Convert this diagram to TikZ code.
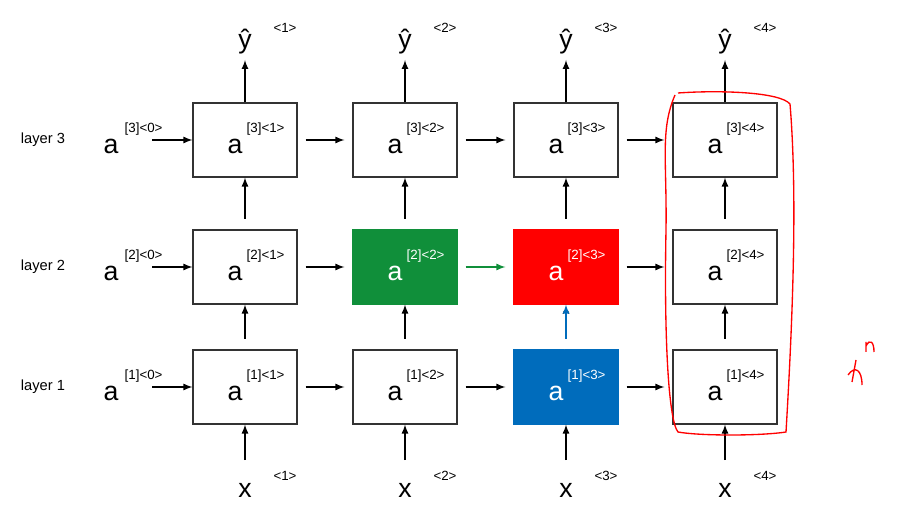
\documentclass[tikz,border=0pt]{standalone}
\usepackage{fontspec}
\setmainfont{Liberation Sans}
\begin{document}
\begin{tikzpicture}[x=0.75pt,y=-0.75pt,
 box/.style={draw=black!80,line width=0.9pt,minimum width=78pt,minimum height=55.5pt,inner sep=0pt},
 arr/.style={-latex,line width=1.3pt},
 big/.style={font=\fontsize{20}{20}\selectfont},
 sup/.style={font=\fontsize{10}{10}\selectfont},
 lay/.style={font=\fontsize{11}{11}\selectfont}]
\useasboundingbox (0,0) rectangle (902,530);
\definecolor{g}{RGB}{16,143,58}\definecolor{bl}{RGB}{0,108,188}
\foreach \c/\cx in {1/245,2/405,3/566,4/725}{
 \foreach \r/\cy in {1/387,2/267,3/140}{
  \def\fc{white}\def\tc{black}\def\dc{black!80}%
  \ifnum\c\r=22 \def\fc{g}\def\tc{white}\def\dc{g}\fi
  \ifnum\c\r=32 \def\fc{red}\def\tc{white}\def\dc{red}\fi
  \ifnum\c\r=31 \def\fc{bl}\def\tc{white}\def\dc{bl}\fi
  \node[box,fill=\fc,draw=\dc] (b\c\r) at (\cx,\cy) {};
  \node[big,text=\tc] at (\cx-10,\cy+6) {a};
  \node[sup,text=\tc,anchor=west] at (\cx-3,\cy-11) {[\r]<\c>};
 }
 \node[big] (y\c) at (\cx,42) {\^{y}};
 \node[sup] at (\cx+40,28) {<\c>};
 \node[big] (x\c) at (\cx,490) {x};
 \node[sup] at (\cx+40,476) {<\c>};
 \coordinate (in\c) at (\cx,460);
 \draw[arr] (in\c) -- (b\c1.south);
 \draw[arr] (b\c3.north) -- (\cx,60);
}
\foreach \c in {1,2,3,4}{
 \draw[arr,shorten <=8pt] (b\c1.north) -- (b\c2.south);
 \draw[arr,shorten <=8pt] (b\c2.north) -- (b\c3.south);}
\foreach \c/\d in {1/2,2/3,3/4}{
 \foreach \r in {1,2,3}{
  \ifnum\c\r=22 \else
  \draw[arr,shorten <=6pt,shorten >=6pt] (b\c\r.east) -- (b\d\r.west);\fi}}
\draw[arr,g,shorten <=6pt,shorten >=6pt] (b22.east) -- (b32.west);
\draw[arr,white,line width=2.5pt,-] (b31.north) -- (b32.south);
\draw[arr,bl,shorten <=8pt] (b31.north) -- (b32.south);
\foreach \r/\cy in {1/387,2/267,3/140}{
 \node[lay] at (43,\cy) {layer \r};
 \node[big] at (111,\cy+6) {a};
 \node[sup,anchor=west] (l\r) at (120,\cy-11) {[\r]<0>};
 \coordinate (s\r) at (152,\cy);
 \draw[arr] (s\r) -- (b1\r.west);}
\draw[red,line width=1pt] (678,93) .. controls (720,90) and (780,92) .. (790,104)
 .. controls (798,200) and (792,330) .. (786,432) .. controls (760,436) and (700,436) .. (678,432)
 .. controls (668,420) and (664,330) .. (666,230) .. controls (667,160) and (660,130) .. (675,95);
\draw[red,line width=1pt] (856,360) -- (852,382) (848,375) .. controls (855,365) and (862,370) .. (862,385)
 (866,342) -- (866,352) (866,346) .. controls (870,338) and (874,342) .. (874,352);
\end{tikzpicture}
\end{document}
